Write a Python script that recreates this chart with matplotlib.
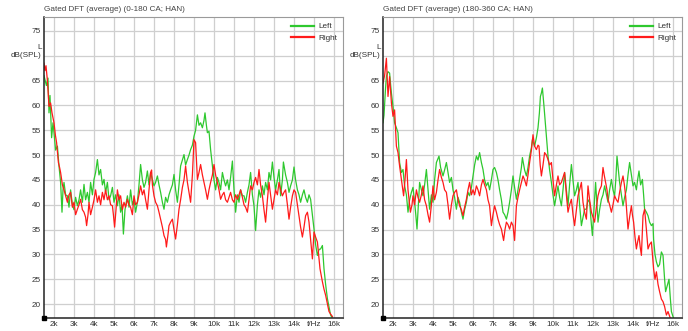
import matplotlib
matplotlib.use("Agg")
import matplotlib.pyplot as plt

# frequency in kHz, level in dB(SPL)
f_a_left = [1.50, 1.62, 1.70, 1.75, 1.80, 1.88, 1.95, 2.00, 2.08, 2.17, 2.25, 2.33, 2.40, 2.45, 2.50,
            2.58, 2.67, 2.75, 2.83, 2.92, 3.00, 3.08, 3.17, 3.25, 3.33, 3.42, 3.50, 3.58, 3.67, 3.75,
            3.83, 3.92, 4.00, 4.08, 4.17, 4.25, 4.33, 4.42, 4.50, 4.58, 4.67, 4.75, 4.83, 4.92, 5.00,
            5.08, 5.17, 5.25, 5.33, 5.40, 5.47, 5.55, 5.67, 5.75, 5.83, 5.92, 6.00, 6.08, 6.17, 6.25,
            6.33, 6.42, 6.50, 6.58, 6.67, 6.75, 6.83, 6.92, 7.00, 7.08, 7.17, 7.25, 7.33, 7.42, 7.50,
            7.58, 7.67, 7.75, 7.83, 7.92, 8.00, 8.08, 8.17, 8.25, 8.33, 8.42, 8.50, 8.58, 8.67, 8.75,
            8.83, 8.92, 9.00, 9.08, 9.17, 9.25, 9.33, 9.42, 9.50, 9.55, 9.62, 9.67, 9.75, 9.83, 9.92,
            10.00, 10.08, 10.17, 10.25, 10.33, 10.42, 10.50, 10.58, 10.67, 10.75, 10.83, 10.92, 11.00,
            11.08, 11.17, 11.25, 11.33, 11.42, 11.50, 11.58, 11.67, 11.75, 11.83, 11.92, 12.00, 12.08,
            12.17, 12.25, 12.33, 12.42, 12.50, 12.58, 12.67, 12.75, 12.83, 12.92, 13.00, 13.08, 13.17,
            13.25, 13.33, 13.42, 13.47, 13.58, 13.67, 13.75, 13.83, 13.92, 14.00, 14.08, 14.17, 14.25,
            14.33, 14.42, 14.50, 14.58, 14.67, 14.75, 14.83, 14.92, 15.00, 15.08, 15.17, 15.25, 15.33,
            15.42, 15.50, 15.58, 15.67, 15.75, 15.83, 15.90]
db_a_left = [66.0, 64.0, 65.5, 58.5, 62.0, 53.5, 56.5, 54.5, 51.0, 51.8, 47.8, 44.5, 38.5, 43.0, 44.5,
             42.0, 41.8, 39.5, 43.0, 40.0, 39.0, 41.5, 39.8, 41.0, 43.0, 40.5, 44.1, 41.0, 42.5, 40.5,
             44.5, 42.0, 45.1, 46.5, 49.1, 46.0, 47.1, 44.0, 45.1, 42.5, 44.5, 41.0, 41.8, 43.5, 40.5,
             42.0, 39.8, 42.0, 38.5, 40.0, 34.1, 39.0, 41.8, 39.5, 43.0, 40.0, 41.1, 38.5, 40.5, 44.0,
             48.1, 45.0, 43.5, 44.5, 46.8, 44.0, 46.5, 45.0, 43.8, 44.5, 45.8, 44.0, 42.5, 40.5, 39.1,
             41.5, 40.5, 42.0, 43.0, 44.0, 46.1, 43.0, 40.5, 44.0, 47.8, 49.0, 50.1, 48.0, 49.1, 50.0,
             51.1, 52.0, 53.8, 55.0, 58.1, 56.0, 56.5, 55.5, 57.0, 58.5, 56.0, 54.5, 54.8, 51.1, 47.8,
             45.0, 43.0, 45.5, 44.5, 43.0, 46.5, 45.0, 43.8, 45.0, 43.0, 45.5, 48.8, 43.0,
             38.5, 42.0, 40.5, 43.0, 41.8, 41.8, 40.5, 42.5, 44.0, 46.5, 42.0, 39.8, 34.8,
             40.0, 43.0, 41.5, 43.8, 42.0, 44.5, 43.0, 46.5, 45.0, 48.6, 45.5, 43.0, 45.0,
             47.1, 41.8, 45.0, 48.6, 46.0, 44.5, 42.5, 43.8, 45.0, 47.6, 45.0, 43.0, 42.0,
             40.5, 42.0, 43.0, 41.5, 40.5, 42.0, 41.1, 38.0, 35.1, 32.0, 29.8, 31.0, 31.1,
             31.8, 27.1, 24.0, 21.1, 19.5, 17.8, 17.3]

f_a_right = [1.50, 1.55, 1.60, 1.67, 1.75, 1.83, 1.90, 2.00, 2.07, 2.13, 2.22, 2.28, 2.33, 2.42, 2.50,
             2.58, 2.67, 2.75, 2.83, 2.92, 3.00, 3.08, 3.17, 3.25, 3.33, 3.42, 3.50, 3.58, 3.63, 3.70,
             3.75, 3.83, 3.92, 4.00, 4.08, 4.17, 4.25, 4.33, 4.42, 4.50, 4.58, 4.67, 4.75, 4.83, 4.92,
             4.97, 5.03, 5.10, 5.17, 5.25, 5.33, 5.42, 5.50, 5.58, 5.67, 5.75, 5.83, 5.92, 6.00, 6.08,
             6.17, 6.25, 6.33, 6.42, 6.50, 6.58, 6.67, 6.75, 6.83, 6.88, 6.92, 7.00, 7.08, 7.17, 7.25,
             7.33, 7.42, 7.50, 7.58, 7.62, 7.70, 7.75, 7.83, 7.92, 8.00, 8.08, 8.17, 8.25, 8.33, 8.42,
             8.50, 8.58, 8.67, 8.75, 8.83, 8.92, 9.00, 9.08, 9.17, 9.25, 9.33, 9.42, 9.50, 9.58, 9.67,
             9.75, 9.83, 9.92, 10.00, 10.08, 10.17, 10.25, 10.33, 10.42, 10.50, 10.58, 10.67, 10.75,
             10.83, 10.92, 11.00, 11.08, 11.17, 11.25, 11.33, 11.42, 11.50, 11.58, 11.67, 11.75, 11.83,
             11.92, 12.00, 12.08, 12.17, 12.25, 12.33, 12.42, 12.50, 12.58, 12.67, 12.75, 12.83, 12.92,
             13.00, 13.08, 13.17, 13.25, 13.33, 13.42, 13.50, 13.58, 13.67, 13.75, 13.83, 13.92, 14.00,
             14.08, 14.17, 14.25, 14.33, 14.42, 14.50, 14.58, 14.67, 14.75, 14.83, 14.92, 15.00, 15.08,
             15.17, 15.23, 15.30, 15.42, 15.50, 15.58, 15.67, 15.75, 15.83, 15.92]
db_a_right = [68.5, 67.0, 68.0, 65.0, 59.8, 60.5, 58.5, 56.5, 54.0, 52.5, 48.5, 47.5, 46.5, 44.0, 43.0,
              41.8, 40.5, 42.0, 42.5, 39.5, 40.5, 38.0, 39.1, 40.0, 41.1, 39.0, 38.5, 37.5, 35.8, 38.0,
              40.5, 38.0, 39.5, 41.0, 43.0, 40.5, 41.8, 40.0, 42.5, 41.0, 43.0, 41.0, 41.8, 40.0, 39.8,
              38.0, 35.5, 39.0, 43.0, 41.0, 41.8, 39.0, 40.5, 39.5, 41.1, 40.0, 39.5, 38.0, 41.8, 40.0,
              40.5, 42.0, 43.8, 42.0, 43.0, 41.0, 39.1, 43.0, 46.5, 47.0, 44.0, 41.8, 40.5, 39.8, 38.5,
              37.1, 35.5, 33.8, 33.0, 31.5, 34.0, 35.8, 36.5, 37.1, 35.0, 33.1, 36.0, 39.1, 41.0, 43.5,
              45.0, 47.8, 44.5, 42.5, 40.5, 46.0, 53.1, 52.5, 45.1, 46.5, 48.1, 46.0, 44.5, 43.0, 41.1,
              43.0, 44.5, 46.0, 48.1, 46.0, 44.5, 43.0, 41.1, 42.0, 42.5, 41.0, 40.5, 41.5,
              42.5, 41.0, 40.5, 42.0, 41.1, 42.0, 43.0, 41.5, 40.0, 39.5, 38.5, 41.0, 43.8,
              43.0, 44.5, 45.5, 44.0, 47.1, 44.0, 41.8, 39.0, 36.5, 41.0, 44.5, 42.0, 39.1,
              41.0, 43.0, 42.0, 44.5, 43.0, 41.8, 42.5, 43.0, 40.0, 37.1, 39.5, 41.8, 43.0,
              42.5, 40.0, 37.8, 35.5, 33.5, 35.5, 37.8, 38.5, 36.5, 33.0, 29.1, 34.5, 33.5,
              32.5, 30.0, 27.1, 24.5, 23.0, 21.8, 20.0, 18.5, 18.0, 17.5]

f_b_left = [1.50, 1.55, 1.62, 1.67, 1.75, 1.83, 1.92, 2.00, 2.08, 2.17, 2.25, 2.33, 2.42, 2.50, 2.58,
            2.67, 2.75, 2.83, 2.92, 3.00, 3.08, 3.14, 3.20, 3.27, 3.33, 3.42, 3.50, 3.58, 3.67, 3.75,
            3.83, 3.92, 4.00, 4.08, 4.17, 4.30, 4.38, 4.50, 4.58, 4.67, 4.75, 4.83, 4.92, 5.00, 5.08,
            5.17, 5.25, 5.33, 5.42, 5.50, 5.58, 5.67, 5.75, 5.83, 5.92, 6.00, 6.08, 6.17, 6.25, 6.33,
            6.42, 6.50, 6.58, 6.67, 6.75, 6.83, 6.92, 7.00, 7.08, 7.17, 7.25, 7.33, 7.42, 7.50, 7.58,
            7.67, 7.75, 7.83, 7.92, 8.00, 8.08, 8.17, 8.25, 8.33, 8.42, 8.47, 8.58, 8.67, 8.75, 8.83,
            8.92, 8.97, 9.08, 9.17, 9.25, 9.32, 9.37, 9.42, 9.47, 9.55, 9.63, 9.70, 9.75, 9.83, 9.92,
            10.00, 10.08, 10.17, 10.25, 10.33, 10.42, 10.50, 10.58, 10.67, 10.75, 10.83, 10.92, 11.00,
            11.08, 11.17, 11.25, 11.33, 11.42, 11.50, 11.58, 11.67, 11.75, 11.83, 11.92, 11.97, 12.05,
            12.13, 12.20, 12.25, 12.33, 12.42, 12.50, 12.58, 12.67, 12.75, 12.83, 12.92, 13.00, 13.08,
            13.14, 13.20, 13.27, 13.33, 13.42, 13.50, 13.58, 13.67, 13.75, 13.83, 13.92, 14.00, 14.08,
            14.17, 14.23, 14.30, 14.38, 14.47, 14.53, 14.58, 14.67, 14.75, 14.83, 14.92, 15.00, 15.03,
            15.10, 15.17, 15.25, 15.33, 15.42, 15.50, 15.58, 15.63, 15.70, 15.80, 15.87, 15.92, 16.03]
db_b_left = [56.5, 58.0, 63.0, 65.8, 66.8, 66.5, 62.5, 59.8, 56.5, 55.5, 54.5, 48.5, 46.5, 47.1, 43.8,
             42.0, 38.5, 41.0, 42.5, 43.5, 40.5, 38.0, 35.1, 40.0, 44.5, 43.0, 41.8, 44.0, 47.1, 43.0,
             39.1, 42.0, 40.5, 45.0, 48.5, 49.8, 47.5, 45.8, 47.0, 48.5, 46.5, 44.5, 45.5, 43.0, 41.5,
             39.1, 41.5, 40.5, 38.5, 37.1, 39.0, 40.5, 42.5, 41.8, 43.5, 45.8, 48.0, 49.8, 49.0, 50.5,
             48.5, 47.1, 45.0, 43.8, 44.5, 43.0, 45.0, 47.1, 47.5, 46.5, 45.0, 43.0, 41.0, 38.5, 38.0,
             37.1, 38.5, 40.5, 43.0, 45.8, 43.5, 41.1, 43.0, 45.1, 47.5, 49.5, 47.0, 45.8, 47.5, 49.8,
             51.5, 53.1, 51.8, 53.5, 55.5, 58.5, 61.8, 62.5, 63.5, 59.8, 55.8, 52.5, 49.8, 47.0, 44.5,
             42.0, 39.8, 42.0, 43.8, 41.5, 39.8, 43.0, 46.5, 43.0, 39.8, 44.0, 48.1, 45.0,
             41.8, 43.0, 44.5, 40.0, 35.8, 37.5, 39.1, 39.1, 41.0, 40.5, 36.0, 33.8, 39.0,
             44.5, 40.0, 36.5, 39.0, 41.1, 42.0, 43.8, 42.0, 40.5, 43.0, 45.1, 43.0, 41.8,
             45.0, 49.8, 47.0, 44.5, 42.0, 39.8, 41.5, 43.0, 46.0, 48.5, 46.0, 43.8, 44.5,
             43.0, 45.0, 46.8, 44.0, 45.1, 42.0, 39.1, 38.5, 37.8, 36.5, 35.8, 36.2, 33.0,
             30.0, 28.5, 27.5, 28.0, 30.5, 29.8, 25.0, 22.5, 23.5, 25.0, 21.0, 18.5, 17.1]

f_b_right = [1.50, 1.58, 1.67, 1.75, 1.83, 1.92, 2.00, 2.08, 2.17, 2.25, 2.33, 2.42, 2.53, 2.60, 2.67,
             2.75, 2.87, 2.95, 3.00, 3.08, 3.17, 3.25, 3.33, 3.42, 3.50, 3.58, 3.67, 3.75, 3.83, 3.92,
             4.00, 4.08, 4.17, 4.25, 4.33, 4.42, 4.50, 4.58, 4.67, 4.75, 4.83, 4.92, 5.00, 5.08, 5.17,
             5.25, 5.33, 5.42, 5.50, 5.58, 5.67, 5.75, 5.83, 5.92, 6.00, 6.08, 6.17, 6.25, 6.33, 6.42,
             6.50, 6.58, 6.67, 6.75, 6.83, 6.92, 7.00, 7.08, 7.17, 7.25, 7.33, 7.42, 7.53, 7.60, 7.67,
             7.75, 7.83, 7.92, 8.00, 8.08, 8.17, 8.25, 8.33, 8.42, 8.50, 8.58, 8.67, 8.75, 8.83, 8.92,
             9.00, 9.08, 9.17, 9.25, 9.30, 9.36, 9.42, 9.50, 9.58, 9.67, 9.75, 9.83, 9.92, 10.00,
             10.08, 10.17, 10.25, 10.33, 10.42, 10.50, 10.58, 10.67, 10.75, 10.83, 10.92, 11.00, 11.08,
             11.17, 11.25, 11.33, 11.42, 11.50, 11.58, 11.67, 11.75, 11.83, 11.92, 12.00, 12.08, 12.17,
             12.25, 12.33, 12.42, 12.50, 12.56, 12.63, 12.70, 12.75, 12.83, 12.92, 13.00, 13.08, 13.17,
             13.25, 13.33, 13.42, 13.50, 13.57, 13.63, 13.70, 13.75, 13.83, 13.92, 13.97, 14.03, 14.10,
             14.17, 14.23, 14.30, 14.36, 14.42, 14.47, 14.50, 14.58, 14.67, 14.75, 14.83, 14.92, 14.97,
             15.03, 15.10, 15.17, 15.25, 15.33, 15.42, 15.50, 15.58, 15.67, 15.75, 15.87]
db_b_right = [64.5, 66.0, 69.5, 61.8, 65.8, 60.5, 57.8, 59.1, 51.8, 50.5, 47.8, 45.1, 41.8, 45.0, 49.1,
              43.0, 38.5, 40.0, 41.8, 40.0, 43.0, 41.5, 40.5, 42.0, 43.8, 41.0, 39.8, 38.0, 36.5, 40.0,
              43.8, 41.0, 42.5, 45.0, 47.1, 45.5, 44.5, 43.0, 42.5, 40.0, 37.1, 40.0, 41.8, 42.5, 43.0,
              41.0, 39.8, 39.0, 37.8, 39.5, 41.1, 43.0, 44.5, 42.0, 43.0, 42.0, 43.8, 43.0, 41.8, 44.0,
              45.1, 44.0, 43.0, 41.0, 39.8, 35.8, 38.0, 39.8, 38.5, 37.1, 36.0, 35.1, 32.8, 35.0, 36.5,
              36.0, 35.1, 36.5, 35.8, 32.8, 39.8, 41.5, 43.0, 44.5, 45.8, 45.0, 43.8, 46.0, 48.5, 51.0,
              54.1, 51.8, 51.1, 52.0, 51.8, 48.0, 45.8, 48.0, 50.5, 50.0, 49.1, 48.0, 48.5, 45.0,
              41.8, 44.0, 45.8, 44.0, 44.5, 45.5, 46.5, 42.0, 38.5, 40.0, 41.1, 38.0, 35.8,
              39.0, 41.8, 43.0, 44.5, 40.5, 38.5, 37.1, 43.8, 41.0, 38.5, 37.5, 36.5, 39.5,
              41.8, 43.0, 43.8, 47.5, 46.0, 44.5, 43.0, 41.1, 40.0, 38.5, 40.0, 41.8, 41.0,
              40.5, 42.5, 44.5, 45.8, 44.0, 41.8, 38.0, 35.1, 37.5, 39.8, 38.0, 36.5, 33.5,
              31.1, 32.5, 33.8, 31.5, 29.8, 35.0, 37.8, 39.1, 35.0, 31.1, 32.0, 32.5, 30.0,
              27.1, 25.0, 26.5, 24.0, 22.5, 21.0, 20.5, 19.5, 17.8, 18.5, 17.1]

panel_titles = ["Gated DFT (average) (0-180 CA; HAN)", "Gated DFT (average) (180-360 CA; HAN)"]
x_ticks = list(range(2, 17))
x_labels = [f"{k}k" for k in x_ticks]
x_labels[x_ticks.index(15)] = "f/Hz"
y_ticks = [20, 25, 30, 35, 40, 45, 50, 55, 60, 65, 75]

GREEN = "#2ec82e"
RED = "#ff1a1a"
TXT = "#333333"

plt.rcParams["font.family"] = ["Liberation Sans", "DejaVu Sans"]
plt.rcParams["font.size"] = 5.9

fig = plt.figure(figsize=(6.88, 3.31), dpi=100)
W, H = 688, 331
panels = [
    (panel_titles[0], 44, f_a_left, db_a_left, f_a_right, db_a_right),
    (panel_titles[1], 383, f_b_left, db_b_left, f_b_right, db_b_right),
]

for title, x0, fl, dl, fr, dr in panels:
    ax = fig.add_axes([x0 / W, 13 / H, 299 / W, 301 / H])
    ax.set_xlim(1.5, 16.45)
    ax.set_ylim(17.2, 77.8)

    ax.set_xticks(x_ticks)
    ax.set_xticklabels(x_labels, color=TXT)
    ax.set_yticks(list(range(20, 80, 5)))
    ax.set_yticklabels([str(v) if v in y_ticks else "" for v in range(20, 80, 5)], color=TXT)
    ax.tick_params(length=0, pad=2)
    ax.grid(True, color="#cfcfcf", lw=0.9)
    ax.set_axisbelow(True)

    for side in ("top", "right"):
        ax.spines[side].set_color("#9a9a9a")
        ax.spines[side].set_linewidth(0.8)
    for side in ("left", "bottom"):
        ax.spines[side].set_color("#222222")
        ax.spines[side].set_linewidth(1.1)

    ax.plot(fl, dl, color=GREEN, lw=0.9, label="Left")
    ax.plot(fr, dr, color=RED, lw=0.9, label="Right")

    # origin marker in the corner
    ax.plot([1.5], [17.2], marker="s", ms=3.2, color="black", clip_on=False, zorder=5)

    ax.text(-0.008, 70.9, "L\ndB(SPL)", transform=ax.get_yaxis_transform(),
            ha="right", va="center", multialignment="right", color=TXT, linespacing=1.25)
    ax.text(0, 1.012, title, transform=ax.transAxes, ha="left", va="bottom", color="#444444")

    leg = ax.legend(loc="upper right", frameon=False, handlelength=2.9, handletextpad=0.5,
                    labelspacing=0.45, borderaxespad=0.3)
    for line in leg.get_lines():
        line.set_linewidth(1.6)
    for t in leg.get_texts():
        t.set_color(TXT)

fig.savefig("out.png", dpi=100)
